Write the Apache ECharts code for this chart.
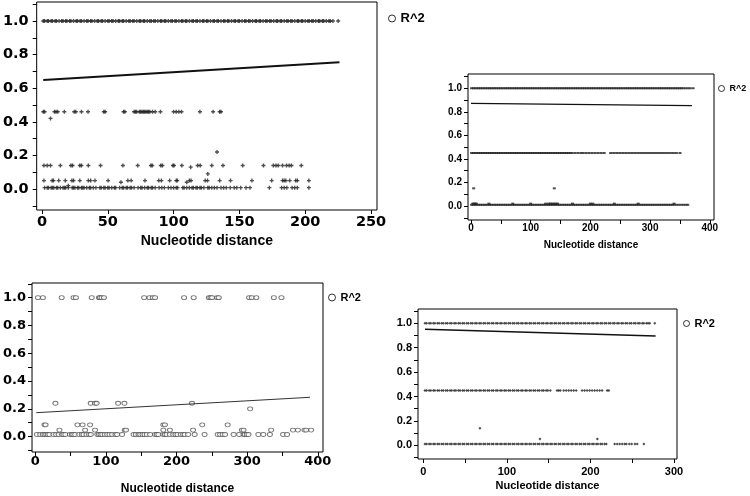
<!DOCTYPE html>
<html><head><meta charset="utf-8">
<script src="https://cdn.jsdelivr.net/npm/echarts@6/dist/echarts.min.js"></script>
<style>html,body{margin:0;padding:0;background:#fff}#c{width:750px;height:496px}</style>
</head><body><div id="c"></div>
<script>
// ---------- Panel A (top-left) ----------
const A_rowY = [1.0, 0.46, 0.14, 0.05, 0.008];
const A_row100_x = [1,2,4,5,7,8,10,11,13,15,16,18,19,21,22,24,26,27,29,30,32,34,35,37,38,40,42,43,45,46,48,50,51,53,54,56,58,59,61,62,64,66,67,69,70,72,74,75,77,78,80,82,83,85,86,88,90,91,93,94,96,98,99,101,102,104,106,107,109,110,112,114,115,117,118,120,122,123,125,126,128,130,131,133,134,136,138,139,141,142,144,146,147,149,150,152,154,155,157,158,160,162,163,165,166,168,170,171,173,174,176,178,179,181,182,184,186,187,189,190,192,194,195,197,198,200,202,203,205,206,208,210,211,213,214,216,218,219,221,225];
const A_row46_x = [1,2,9.5,10.7,12,17,24.5,25.7,30,35,47,48,62,63,70,71,72,74,75,76,77,78,79,80,81,82,84,86,90,100,102,104,106,120,130,135,136];
const A_row14_x = [1.5,4,6.5,14,22,23.25,28.75,30,35.25,44.5,61.5,72.75,82.75,83.75,90.25,91.5,99.5,100.25,106.25,118.25,120.25,129,137.5,152.5,168.25,175.75,177.75,179.5,182.75,185.75,187.75,189.5,197];
const A_row05_x = [1.5,7.75,8.75,12.75,17.75,22.75,24,28.75,35.25,37,40.25,50.25,65.25,67.75,78.25,88.75,90.75,97,102,102.75,112,113.25,124,125.75,135,143.25,159.5,174.5,182.75,184,185.25,188.25,192.75,194,202.75];
const A_row01_x = [2,4,5,7,8,9,11,12,14,16,17,18,20,23,24,25,27,28,30,31,32,34,36,37,39,41,44,45,47,48,50,51,53,55,56,59,61,62,64,65,67,68,70,73,75,76,78,80,81,83,84,86,89,91,93,96,98,100,102,103,107,108,110,112,114,115,117,118,120,121,123,126,127,129,131,133,136,138,140,143,146,148,151,155,158,172.75,182,184,186,190,192,194,202.75];
const A_other_x = [6.5,133,126,113,110,60,20];
const A_other_y = [0.42,0.22,0.09,0.13,0.04,0.04,0.02];
const A_fit_x = [1,226];
const A_fit_y = [0.649,0.754];
const A_xLabels = [0,50,100,150,200,250];
const A_xTicks = [0,50,100,150,200,250];

// ---------- Panel B (top-right) ----------
const B_rowY = [1.0, 0.45, 0.01];
const B_row100_x = [1,4,7,10,13,16,19,22,25,28,31,34,37,40,43,46,49,52,55,58,61,64,67,70,73,76,79,82,85,88,91,94,97,100,103,106,109,112,115,118,121,124,127,130,133,136,139,142,145,148,151,154,157,160,163,166,169,172,175,178,181,184,187,190,193,196,199,202,205,208,211,214,217,220,223,226,229,232,235,238,241,244,247,250,253,256,259,262,265,268,271,274,277,280,283,286,289,292,295,298,301,304,307,310,313,316,319,322,325,328,331,334,337,340,343,346,349,352,355,359,363,367,372];
const B_row45_x = [1,4,7,10,13,16,19,22,25,28,31,34,37,40,43,46,49,52,55,58,61,64,67,70,73,76,79,82,85,88,91,94,97,100,103,106,109,112,115,118,121,124,127,130,133,136,139,142,145,148,151,154,157,160,163,166,169,174,179,184,188,193,198,203,208,213,218,223,234,239,244,249,254,259,264,269,274,279,284,289,294,299,304,309,314,319,324,329,334,339,344,350];
const B_row01_x = [1,4,7,10,13,16,19,22,25,28,31,34,37,40,43,46,49,52,55,58,61,64,67,70,73,76,79,82,85,88,91,94,97,100,103,106,109,112,115,118,121,124,127,130,133,136,139,142,145,148,151,154,157,160,163,166,169,172,175,178,181,184,187,190,193,196,199,202,205,208,211,214,217,220,223,226,229,232,235,238,241,244,247,250,253,256,259,262,265,268,271,274,277,280,283,286,289,292,295,298,301,304,307,310,313,316,319,322,325,328,331,334,337,340,344,348,352,356,360,363];
const B_bump_x = [3,5,7,9,30,70,100,125,130,133,136,139,142,145,170,200,204,240,280,340];
const B_bump_y = 0.02;
const B_other_x = [4.5,139.5];
const B_other_y = [0.15,0.15];
const B_fit_x = [0,370];
const B_fit_y = [0.872,0.852];
const B_xLabels = [0,100,200,300,400];
const B_xTicks = [0,50,100,150,200,250,300,350,400];

// ---------- Panel C (bottom-left) ----------
const C_rowY = [1.0, 0.24, 0.085, 0.047, 0.015];
const C_row100_x = [3.8,10.8,37.4,54.2,57.5,79.9,90.2,91.6,93.9,97.2,154.2,161.7,166.3,169.6,210.7,224.3,245.8,248.1,250.4,257.5,259.8,302.8,306.5,313,337.8,348.6];
const C_row24_x = [28.5,78.5,84.6,86.9,117.3,126.2,221.9];
const C_row08_x = [13.1,14.6,59.8,66.9,77.6,181.3,183.6,236.4,272.4];
const C_row05_x = [34.2,70.6,84.6,126.7,128.5,181.3,190.6,223.4,292.5,294.9,334,364.9,371.9,381.2,383.6,390.6];
const C_row02_x = [2.4,7,10.8,13.1,15.5,17.8,20.1,25.8,29.5,33.2,37.9,39.8,42.6,49.1,52,53.8,56.6,62.2,66,68.3,72.5,76.2,78.6,87.9,90.2,92.5,94.9,98.6,101.9,105.2,108.9,113.6,115.9,122.9,139.3,142.5,146.3,148.6,151.9,154.7,158,162.6,169.6,172,174.3,181.3,183.6,186,190.6,195.3,198.6,201.4,206.1,209.4,211.7,216.4,225.7,239.7,258.4,261.7,265.4,268.7,280.9,288.7,294.9,296.7,299.5,301.9,315.9,322.9,332.2,350.9,356.5];
const C_other_x = [304.2];
const C_other_y = [0.2];
const C_fit_x = [1.4,389];
const C_fit_y = [0.172,0.283];
const C_xLabels = [0,100,200,300,400];
const C_xTicks = [0,50,100,150,200,250,300,350,400];

// ---------- Panel D (bottom-right) ----------
const D_rowY = [1.0, 0.45, 0.01];
const D_row100_x = [2,4,7,9,12,14,17,19,22,24,27,29,32,34,37,39,42,44,47,49,52,54,57,59,62,64,67,69,72,74,77,79,82,84,87,89,92,94,97,99,102,104,107,109,112,114,117,119,122,124,127,129,132,134,137,139,142,144,147,149,152,154,157,159,162,164,167,169,172,174,177,179,182,184,187,189,192,194,197,199,202,204,207,209,212,214,217,219,222,224,227,229,232,234,237,239,242,244,247,249,252,254,257,259,262,264,267,269,271,277];
const D_row45_x = [2,4,7,9,12,14,17,19,22,24,27,29,32,34,37,39,42,44,47,49,52,54,57,59,62,64,67,69,72,74,77,79,82,84,87,89,92,94,97,99,102,104,107,109,112,114,117,119,122,124,127,129,132,134,137,139,142,144,147,149,152,160,162,164,168,171,174,177,180,183,190,193,196,199,202,205,208,211,214,220,222];
const D_row01_x = [2,4,7,9,12,14,17,19,22,24,27,29,32,34,37,39,42,44,47,49,52,54,57,59,62,64,67,69,72,74,77,79,82,84,87,89,92,94,97,99,102,104,107,109,112,114,117,119,122,124,127,129,132,134,137,139,142,144,147,149,152,154,157,159,162,164,167,169,172,174,177,179,182,184,187,189,192,194,197,199,202,204,207,209,212,214,217,219,229,232,235,238,241,243,246.5,249.4,253.3,256,264];
const D_other_x = [67.8,139.6,208.3];
const D_other_y = [0.139,0.052,0.052];
const D_fit_x = [2,278];
const D_fit_y = [0.951,0.896];
const D_xLabels = [0,100,200,300];
const D_xTicks = [0,50,100,150,200,250,300];

const Y_labels = [0,0.2,0.4,0.6,0.8,1.0];
const Y_ticks = [-0.1,0,0.1,0.2,0.3,0.4,0.5,0.6,0.7,0.8,0.9,1.0,1.1];
const X_title = 'Nucleotide distance';
const LEGEND_NAME = 'R^2';

// ---------- build ----------
const FS = '"Liberation Sans", Arial, sans-serif';
const FD = '"DejaVu Sans", sans-serif';
const PLUS = 'path://M0,1H3V2H0Z M1,0H2V3H1Z';

function rowData(xs, y){ return xs.map(x => [x, y]); }
function pairData(xs, ys){ return xs.map((x,i) => [x, ys[i]]); }

const panels = [
  { grid:{left:34,top:2,width:343,height:208}, xr:[-4,254.5], yr:[-0.125,1.113],
    xl:A_xLabels, xt:A_xTicks, tf:FD, ts:14.5, xm:5, ym:8, nsz:14, ng:24,
    lg:{left:388,top:12,size:13,icon:7},
    sets:[rowData(A_row100_x,A_rowY[0]),rowData(A_row46_x,A_rowY[1]),rowData(A_row14_x,A_rowY[2]),rowData(A_row05_x,A_rowY[3]),rowData(A_row01_x,A_rowY[4]),pairData(A_other_x,A_other_y)],
    fit:pairData(A_fit_x,A_fit_y), sym:PLUS, ss:4, style:{color:'#222'}, fw:2, fc:'#111' },
  { grid:{left:468,top:74,width:246,height:146}, xr:[-5,407], yr:[-0.119,1.121],
    xl:B_xLabels, xt:B_xTicks, tf:FS, ts:10, xm:3, ym:6, nsz:10, ng:20,
    lg:{left:718,top:84,size:9,icon:6},
    sets:[rowData(B_row100_x,B_rowY[0]),rowData(B_row45_x,B_rowY[1]),rowData(B_row01_x,B_rowY[2]),rowData(B_bump_x,B_bump_y),pairData(B_other_x,B_other_y)],
    fit:pairData(B_fit_x,B_fit_y), sym:'rect', ss:[3,2], style:{color:'#222'}, fw:1.3, fc:'#111' },
  { grid:{left:29,top:283,width:294,height:172}, xr:[-4.6,407.4], yr:[-0.111,1.106],
    xl:C_xLabels, xt:C_xTicks, tf:FD, ts:13, xm:3, ym:6, nsz:12, ng:31,
    lg:{left:328,top:292,size:11,icon:7},
    sets:[rowData(C_row100_x,C_rowY[0]),rowData(C_row24_x,C_rowY[1]),rowData(C_row08_x,C_rowY[2]),rowData(C_row05_x,C_rowY[3]),rowData(C_row02_x,C_rowY[4]),pairData(C_other_x,C_other_y)],
    fit:pairData(C_fit_x,C_fit_y), sym:'circle', ss:[5,4], style:{color:'#fff', borderColor:'#555', borderWidth:0.9}, fw:1, fc:'#333' },
  { grid:{left:418,top:309,width:259,height:150}, xr:[-6.3,303.6], yr:[-0.112,1.117],
    xl:D_xLabels, xt:D_xTicks, tf:FS, ts:11, xm:7, ym:6, nsz:11, ng:21,
    lg:{left:683,top:318,size:11,icon:6},
    sets:[rowData(D_row100_x,D_rowY[0]),rowData(D_row45_x,D_rowY[1]),rowData(D_row01_x,D_rowY[2]),pairData(D_other_x,D_other_y)],
    fit:pairData(D_fit_x,D_fit_y), sym:'diamond', ss:3, style:{color:'#222'}, fw:1.5, fc:'#111' }
];

const option = { backgroundColor:'#fff', animation:false, grid:[], xAxis:[], yAxis:[], legend:[], series:[] };

panels.forEach((p, i) => {
  option.grid.push(Object.assign({show:true, borderColor:'#000', borderWidth:1, backgroundColor:'transparent'}, p.grid));
  option.xAxis.push({
    gridIndex:i, type:'value', position:'bottom', min:p.xr[0], max:p.xr[1],
    axisLine:{show:false, onZero:false}, splitLine:{show:false},
    axisTick:{show:true, inside:false, length:4, lineStyle:{color:'#000',width:1}, customValues:p.xt},
    axisLabel:{show:true, customValues:p.xl, margin:p.xm, fontSize:p.ts, fontWeight:'bold', fontFamily:p.tf, color:'#000'},
    name:X_title, nameLocation:'middle', nameGap:p.ng,
    nameTextStyle:{fontSize:p.nsz, fontWeight:'bold', fontFamily:FS, color:'#000'}
  });
  option.yAxis.push({
    gridIndex:i, type:'value', position:'left', min:p.yr[0], max:p.yr[1],
    axisLine:{show:false, onZero:false}, splitLine:{show:false},
    axisTick:{show:true, inside:false, length:4, lineStyle:{color:'#000',width:1}, customValues:Y_ticks},
    axisLabel:{show:true, customValues:Y_labels, margin:p.ym, fontSize:p.ts, fontWeight:'bold', fontFamily:p.tf, color:'#000',
      formatter:v => Number(v).toFixed(1)}
  });
  option.legend.push({
    left:p.lg.left, top:p.lg.top, padding:0, itemWidth:p.lg.icon, itemHeight:p.lg.icon, selectedMode:false,
    textStyle:{fontSize:p.lg.size, fontWeight:'bold', fontFamily:FS, color:'#000'},
    data:[{name:LEGEND_NAME, icon:'circle', itemStyle:{color:'#fff', borderColor:'#000', borderWidth:1}}]
  });
  p.sets.forEach(d => {
    option.series.push({
      type:'scatter', name:LEGEND_NAME, xAxisIndex:i, yAxisIndex:i, data:d,
      symbol:p.sym, symbolSize:p.ss, silent:true, itemStyle:p.style
    });
  });
  option.series.push({
    type:'line', name:'fit', xAxisIndex:i, yAxisIndex:i, data:p.fit, showSymbol:false, symbol:'none', silent:true,
    lineStyle:{color:p.fc, width:p.fw}
  });
});

const chart = echarts.init(document.getElementById('c'), null, {renderer:'canvas'});
chart.setOption(option);
</script>
</body></html>
